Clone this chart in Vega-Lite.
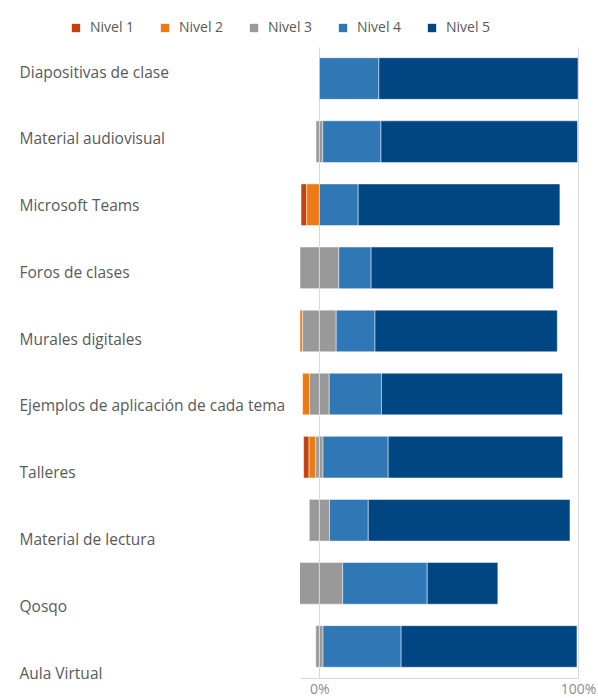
{
  "$schema": "https://vega.github.io/schema/vega-lite/v6.json",
  "width": 278,
  "height": 631,
  "autosize": "none",
  "padding": {"left": 300, "top": 47, "right": 20, "bottom": 20},
  "background": "white",
  "config": {
    "view": {"stroke": null},
    "font": "Open Sans"
  },
  "data": {
    "values": [
      {"item": "Diapositivas de clase", "level": "Nivel 4", "value": 23},
      {"item": "Diapositivas de clase", "level": "Nivel 5", "value": 77},
      {"item": "Material audiovisual", "level": "Nivel 3", "value": -1.3},
      {"item": "Material audiovisual", "level": "Nivel 3", "value": 1.3},
      {"item": "Material audiovisual", "level": "Nivel 4", "value": 22.5},
      {"item": "Material audiovisual", "level": "Nivel 5", "value": 76},
      {"item": "Microsoft Teams", "level": "Nivel 1", "value": -2.2},
      {"item": "Microsoft Teams", "level": "Nivel 2", "value": -4.9},
      {"item": "Microsoft Teams", "level": "Nivel 4", "value": 15},
      {"item": "Microsoft Teams", "level": "Nivel 5", "value": 78},
      {"item": "Foros de clases", "level": "Nivel 3", "value": -7.5},
      {"item": "Foros de clases", "level": "Nivel 3", "value": 7.5},
      {"item": "Foros de clases", "level": "Nivel 4", "value": 12.5},
      {"item": "Foros de clases", "level": "Nivel 5", "value": 70.5},
      {"item": "Murales digitales", "level": "Nivel 2", "value": -1},
      {"item": "Murales digitales", "level": "Nivel 3", "value": -6.5},
      {"item": "Murales digitales", "level": "Nivel 3", "value": 6.5},
      {"item": "Murales digitales", "level": "Nivel 4", "value": 15},
      {"item": "Murales digitales", "level": "Nivel 5", "value": 70.5},
      {"item": "Ejemplos de aplicación de cada tema", "level": "Nivel 2", "value": -2.7},
      {"item": "Ejemplos de aplicación de cada tema", "level": "Nivel 3", "value": -3.8},
      {"item": "Ejemplos de aplicación de cada tema", "level": "Nivel 3", "value": 3.8},
      {"item": "Ejemplos de aplicación de cada tema", "level": "Nivel 4", "value": 20.2},
      {"item": "Ejemplos de aplicación de cada tema", "level": "Nivel 5", "value": 70},
      {"item": "Talleres", "level": "Nivel 1", "value": -2.1},
      {"item": "Talleres", "level": "Nivel 2", "value": -2.6},
      {"item": "Talleres", "level": "Nivel 3", "value": -1.4},
      {"item": "Talleres", "level": "Nivel 3", "value": 1.4},
      {"item": "Talleres", "level": "Nivel 4", "value": 25.2},
      {"item": "Talleres", "level": "Nivel 5", "value": 67.5},
      {"item": "Material de lectura", "level": "Nivel 3", "value": -3.9},
      {"item": "Material de lectura", "level": "Nivel 3", "value": 3.9},
      {"item": "Material de lectura", "level": "Nivel 4", "value": 15},
      {"item": "Material de lectura", "level": "Nivel 5", "value": 78},
      {"item": "Qosqo", "level": "Nivel 3", "value": -9},
      {"item": "Qosqo", "level": "Nivel 3", "value": 9},
      {"item": "Qosqo", "level": "Nivel 4", "value": 32.7},
      {"item": "Qosqo", "level": "Nivel 5", "value": 27.3},
      {"item": "Aula Virtual", "level": "Nivel 3", "value": -1.4},
      {"item": "Aula Virtual", "level": "Nivel 3", "value": 1.4},
      {"item": "Aula Virtual", "level": "Nivel 4", "value": 30.2},
      {"item": "Aula Virtual", "level": "Nivel 5", "value": 68}
    ]
  },
  "layer": [
    {
      "encoding": {
        "y": {
          "field": "item",
          "type": "nominal",
          "sort": ["Diapositivas de clase", "Material audiovisual", "Microsoft Teams", "Foros de clases", "Murales digitales", "Ejemplos de aplicación de cada tema", "Talleres", "Material de lectura", "Qosqo", "Aula Virtual"],
          "scale": {"paddingInner": 0.34, "paddingOuter": 0.17},
          "axis": null
        },
        "x": {
          "field": "value",
          "type": "quantitative",
          "stack": "zero",
          "scale": {"domain": [-7.5, 100], "nice": false, "zero": false},
          "axis": {
            "title": null,
            "values": [0, 100],
            "labelExpr": "datum.value + '%'",
            "grid": true,
            "gridColor": "#D9D9D9",
            "domainColor": "#D9D9D9",
            "ticks": false,
            "labelColor": "#8C8C8C",
            "labelFontSize": 14,
            "labelPadding": 4,
            "labelFlush": false,
            "labelOverlap": false
          }
        },
        "color": {
          "field": "level",
          "type": "nominal",
          "scale": {
            "domain": ["Nivel 1", "Nivel 2", "Nivel 3", "Nivel 4", "Nivel 5"],
            "range": ["#C5420C", "#EE7A14", "#999999", "#2F78B5", "#004683"]
          },
          "legend": {
            "title": null,
            "orient": "none",
            "direction": "horizontal",
            "legendX": -231,
            "legendY": -26,
            "symbolType": "square",
            "symbolSize": 70,
            "symbolStrokeWidth": 0,
            "symbolOpacity": 1,
            "labelFontSize": 14,
            "labelColor": "#595959",
            "labelOffset": 7,
            "columnPadding": 23
          }
        }
      },
      "layer": [
        {
          "transform": [{"filter": "datum.value < 0"}],
          "mark": {"type": "bar", "clip": true, "stroke": "white", "strokeWidth": 0.8, "strokeOpacity": 0.6},
          "encoding": {
            "order": {"field": "level", "sort": "descending"}
          }
        },
        {
          "transform": [{"filter": "datum.value > 0"}],
          "mark": {"type": "bar", "clip": true, "stroke": "white", "strokeWidth": 0.8, "strokeOpacity": 0.6},
          "encoding": {
            "order": {"field": "level", "sort": "ascending"}
          }
        }
      ]
    },
    {
      "mark": {"type": "tick", "opacity": 0},
      "encoding": {
        "y": {
          "field": "item",
          "type": "nominal",
          "sort": ["Diapositivas de clase", "Material audiovisual", "Microsoft Teams", "Foros de clases", "Murales digitales", "Ejemplos de aplicación de cada tema", "Talleres", "Material de lectura", "Qosqo", "Aula Virtual"],
          "scale": {"type": "point", "range": [25, 626], "padding": 0},
          "axis": {
            "title": null,
            "orient": "left",
            "domain": false,
            "ticks": false,
            "tickSize": 0,
            "labelAlign": "left",
            "labelBaseline": "middle",
            "labelPadding": 281,
            "labelFontSize": 15.5,
            "labelColor": "#595959",
            "labelLimit": 300
          }
        }
      }
    }
  ],
  "resolve": {"scale": {"y": "independent"}}
}
